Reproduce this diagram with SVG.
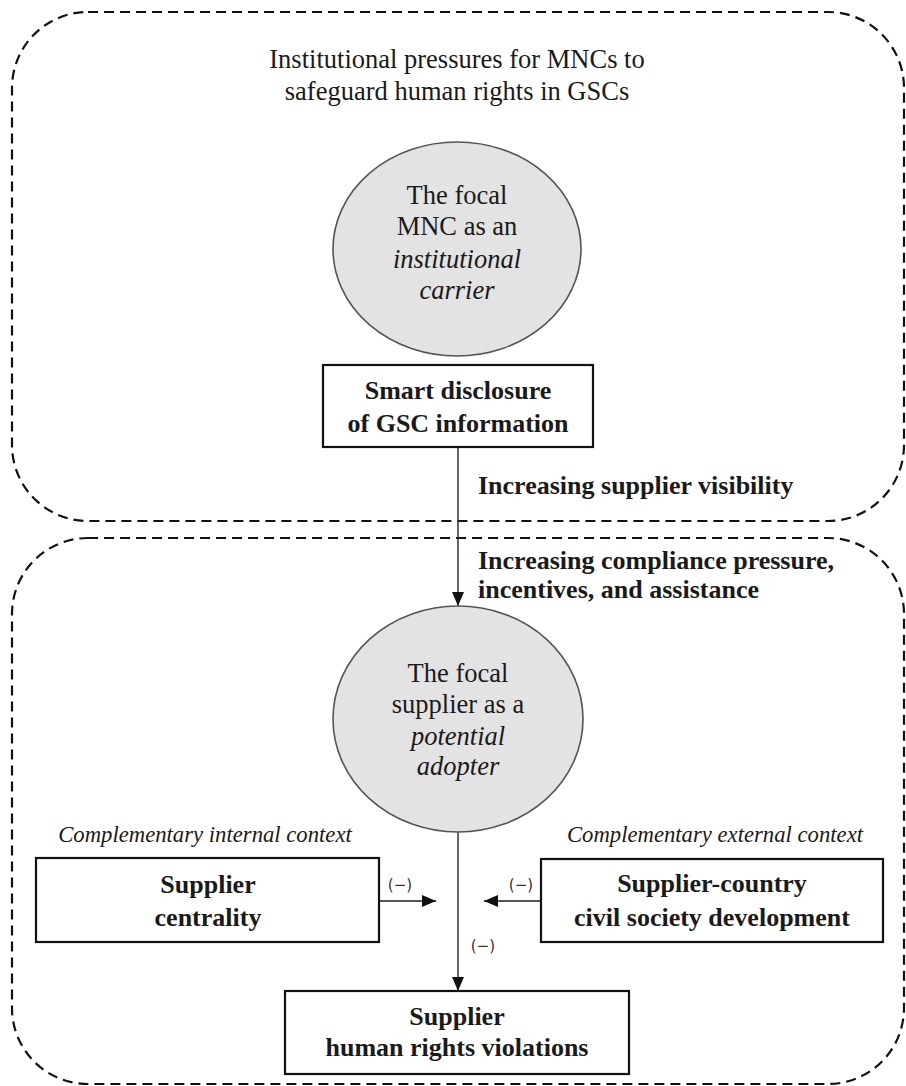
<svg xmlns="http://www.w3.org/2000/svg" width="906" height="1086" viewBox="0 0 906 1086">
<style>
.zone{fill:none;stroke:#111;stroke-width:2.2;stroke-dasharray:10 6}
.ell{fill:#e3e3e3;stroke:#555;stroke-width:1.6}
.box{fill:#fff;stroke:#111;stroke-width:2.2}
.t{font-family:"Liberation Serif","Times New Roman",serif;fill:#1a1a1a;text-anchor:middle}
.reg{font-size:26.5px}
.it{font-style:italic}
.b{font-weight:bold;font-size:26px}
.lab{text-anchor:start}
.ctx{font-size:22.7px;font-style:italic}
.neg{font-family:"DejaVu Sans",sans-serif;font-size:15px;fill:#333;text-anchor:middle}
.conn{stroke:#333;stroke-width:1.5;fill:none}
.hconn{stroke:#555;stroke-width:2.2;fill:none}
</style>
<defs>
<marker id="ah" markerUnits="userSpaceOnUse" markerWidth="14" markerHeight="14" viewBox="0 0 14 12" refX="14" refY="6" orient="auto">
<path d="M0,0 L14,6 L0,12 z" fill="#111"/>
</marker>
</defs>

<g id="zone-top">
<rect class="zone" x="12" y="12" width="892" height="509" rx="76" ry="76"/>
<text class="t reg" x="457" y="68">Institutional pressures for MNCs to</text>
<text class="t reg" x="457" y="100">safeguard human rights in GSCs</text>
</g>
<g id="zone-bottom">
<rect class="zone" x="12" y="538" width="892" height="546" rx="76" ry="76"/>
</g>

<g id="connectors">
<line class="conn" x1="458" y1="447" x2="458" y2="606" marker-end="url(#ah)"/>
<line class="conn" x1="458" y1="832" x2="458" y2="991" marker-end="url(#ah)"/>
<line class="hconn" x1="379" y1="901" x2="436" y2="901" marker-end="url(#ah)"/>
<line class="hconn" x1="541" y1="901" x2="484" y2="901" marker-end="url(#ah)"/>
<text class="t b lab" x="478" y="494">Increasing supplier visibility</text>
<text class="t b lab" x="478" y="569">Increasing compliance pressure,</text>
<text class="t b lab" x="478" y="598">incentives, and assistance</text>
<text class="neg" x="400" y="890">(−)</text>
<text class="neg" x="521" y="890">(−)</text>
<text class="neg" x="483" y="951">(−)</text>
</g>

<g id="mnc">
<ellipse class="ell" cx="457" cy="249" rx="124" ry="107"/>
<text class="t reg" x="457" y="204">The focal</text>
<text class="t reg" x="457" y="235">MNC as an</text>
<text class="t reg it" x="457" y="268">institutional</text>
<text class="t reg it" x="457" y="299">carrier</text>
</g>

<g id="disclosure">
<rect class="box" x="323" y="365" width="270" height="82"/>
<text class="t b" x="458" y="399">Smart disclosure</text>
<text class="t b" x="458" y="432">of GSC information</text>
</g>

<g id="supplier">
<ellipse class="ell" cx="458" cy="719" rx="125" ry="113"/>
<text class="t reg" x="458" y="682">The focal</text>
<text class="t reg" x="458" y="713">supplier as a</text>
<text class="t reg it" x="458" y="745">potential</text>
<text class="t reg it" x="458" y="775">adopter</text>
</g>

<g id="centrality">
<text class="t ctx" x="205" y="842">Complementary internal context</text>
<rect class="box" x="36" y="858" width="343" height="84"/>
<text class="t b" x="208" y="893">Supplier</text>
<text class="t b" x="208" y="926">centrality</text>
</g>

<g id="civil-society">
<text class="t ctx" x="715" y="842">Complementary external context</text>
<rect class="box" x="541" y="859" width="342" height="83"/>
<text class="t b" x="712" y="892">Supplier-country</text>
<text class="t b" x="712" y="926">civil society development</text>
</g>

<g id="violations">
<rect class="box" x="285" y="991" width="344" height="83"/>
<text class="t b" x="457" y="1025">Supplier</text>
<text class="t b" x="457" y="1056">human rights violations</text>
</g>
</svg>
